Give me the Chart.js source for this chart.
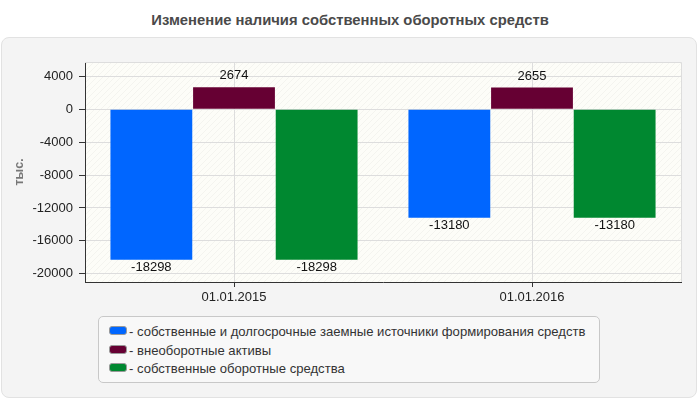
<!DOCTYPE html>
<html>
<head>
<meta charset="utf-8">
<script src="https://cdn.jsdelivr.net/npm/chart.js@4/dist/chart.umd.min.js"></script>
<style>
  body { margin: 0; background: #fff; font-family: "Liberation Sans", Arial, sans-serif; }
  #wrap { position: relative; width: 700px; height: 400px; overflow: hidden; }
  #title { position: absolute; left: 0; top: 12px; width: 700px; text-align: center; font-weight: bold; font-size: 14.8px; color: #4a4a4a; }
  #panel { position: absolute; left: 1px; top: 37px; width: 694px; height: 359px; background: #f4f4f4; border: 1px solid #e2e2e2; border-radius: 8px; }
  canvas { position: absolute; left: 0; top: 0; }
  #legend { position: absolute; left: 98px; top: 316px; width: 500px; height: 65px; background: #f8f8f8; border: 1px solid #c8c8c8; border-radius: 5px; font-size: 13.1px; color: #333; }
  .item { position: absolute; left: 10px; height: 15px; line-height: 15px; white-space: nowrap; }
  .sw { display: inline-block; width: 16px; height: 7px; border: 1px solid #999; border-radius: 3px; vertical-align: 1px; margin-right: 2px; }
</style>
</head>
<body>
<div id="wrap">
  <div id="title">Изменение наличия собственных оборотных средств</div>
  <div id="panel"></div>
  <canvas id="chart" width="700" height="400"></canvas>
  <div id="legend"></div>
</div>
<script>
const categories = ['01.01.2015', '01.01.2016'];
const seriesNames = [
  'собственные и долгосрочные заемные источники формирования средств',
  'внеоборотные активы',
  'собственные оборотные средства'
];
const sourcesValues = [-18298, -13180];
const fixedAssetsValues = [2674, 2655];
const workingCapitalValues = [-18298, -13180];
const seriesColors = ['#0066ff', '#660033', '#008830'];
const yTicks = [-20000, -16000, -12000, -8000, -4000, 0, 4000];

const FONT = '"Liberation Sans", Arial, sans-serif';

// hatch pattern for the plot background
function makePattern(ctx) {
  const p = document.createElement('canvas');
  p.width = 6; p.height = 6;
  const c = p.getContext('2d');
  c.fillStyle = '#fdfdf8';
  c.fillRect(0, 0, 6, 6);
  c.strokeStyle = 'rgba(0,0,0,0.035)';
  c.lineWidth = 1;
  c.beginPath();
  c.moveTo(0, 6); c.lineTo(6, 0);
  c.moveTo(-3, 3); c.lineTo(3, -3);
  c.moveTo(3, 9); c.lineTo(9, 3);
  c.stroke();
  return ctx.createPattern(p, 'repeat');
}

const plotBg = {
  id: 'plotBg',
  beforeDraw(chart) {
    const a = chart.chartArea, ctx = chart.ctx;
    ctx.save();
    ctx.fillStyle = makePattern(ctx);
    ctx.fillRect(a.left, a.top, a.right - a.left, a.bottom - a.top);
    ctx.restore();
  },
  afterDraw(chart) {
    const a = chart.chartArea, ctx = chart.ctx;
    ctx.save();
    ctx.strokeStyle = '#dddddd';
    ctx.lineWidth = 1;
    ctx.beginPath();
    ctx.moveTo(a.left, a.top + 0.5); ctx.lineTo(a.right + 0.5, a.top + 0.5);
    ctx.lineTo(a.right + 0.5, a.bottom);
    ctx.stroke();
    ctx.restore();
  }
};

const valueLabels = {
  id: 'valueLabels',
  afterDatasetsDraw(chart) {
    const ctx = chart.ctx;
    ctx.save();
    ctx.font = '13px ' + FONT;
    ctx.fillStyle = '#111';
    ctx.textAlign = 'center';
    chart.data.datasets.forEach((ds, i) => {
      chart.getDatasetMeta(i).data.forEach((bar, j) => {
        const v = ds.data[j];
        if (v >= 0) {
          ctx.textBaseline = 'bottom';
          ctx.fillText(v, bar.x, bar.y - 5);
        } else {
          ctx.textBaseline = 'top';
          ctx.fillText(v, bar.x, bar.y + 1);
        }
      });
    });
    ctx.restore();
  }
};

const values = [sourcesValues, fixedAssetsValues, workingCapitalValues];

new Chart(document.getElementById('chart').getContext('2d'), {
  type: 'bar',
  data: {
    labels: categories,
    datasets: seriesNames.map((name, i) => ({
      label: name,
      data: values[i],
      backgroundColor: seriesColors[i],
      borderWidth: 0,
      categoryPercentage: 0.832,
      barPercentage: 0.99
    }))
  },
  plugins: [plotBg, valueLabels],
  options: {
    responsive: false,
    animation: false,
    layout: { padding: { left: 8, top: 62, right: 19, bottom: 88 } },
    plugins: {
      legend: { display: false },
      tooltip: { enabled: false }
    },
    scales: {
      x: {
        offset: true,
        afterFit(scale) { scale.height = 30; },
        grid: {
          offset: false,
          color: '#dddddd',
          borderDash: [5, 4],
          tickLength: 5,
          tickColor: '#333',
          tickBorderDash: []
        },
        border: { color: '#333', width: 1 },
        ticks: {
          padding: 3,
          color: '#222',
          font: { family: FONT, size: 13 }
        }
      },
      y: {
        min: -21000,
        max: 5750,
        afterFit(scale) { scale.width = 77; },
        afterBuildTicks(scale) { scale.ticks = yTicks.map(v => ({ value: v })); },
        grid: {
          color: '#dddddd',
          borderDash: [5, 4],
          tickLength: 6,
          tickColor: '#333',
          tickBorderDash: []
        },
        border: { color: '#333', width: 1 },
        ticks: {
          padding: 6,
          color: '#222',
          font: { family: FONT, size: 13 },
          callback: v => String(v)
        },
        title: {
          display: true,
          text: 'тыс.',
          color: '#777',
          padding: { top: 4, bottom: 0 },
          font: { family: FONT, size: 12.5, weight: 'bold' }
        }
      }
    }
  }
});

// legend as plain text items
const legend = document.getElementById('legend');
seriesNames.forEach((name, i) => {
  const row = document.createElement('div');
  row.className = 'item';
  row.style.top = (7 + i * 18.5) + 'px';
  const sw = document.createElement('span');
  sw.className = 'sw';
  sw.style.background = seriesColors[i];
  row.appendChild(sw);
  row.appendChild(document.createTextNode('- ' + name));
  legend.appendChild(row);
});
</script>
</body>
</html>
